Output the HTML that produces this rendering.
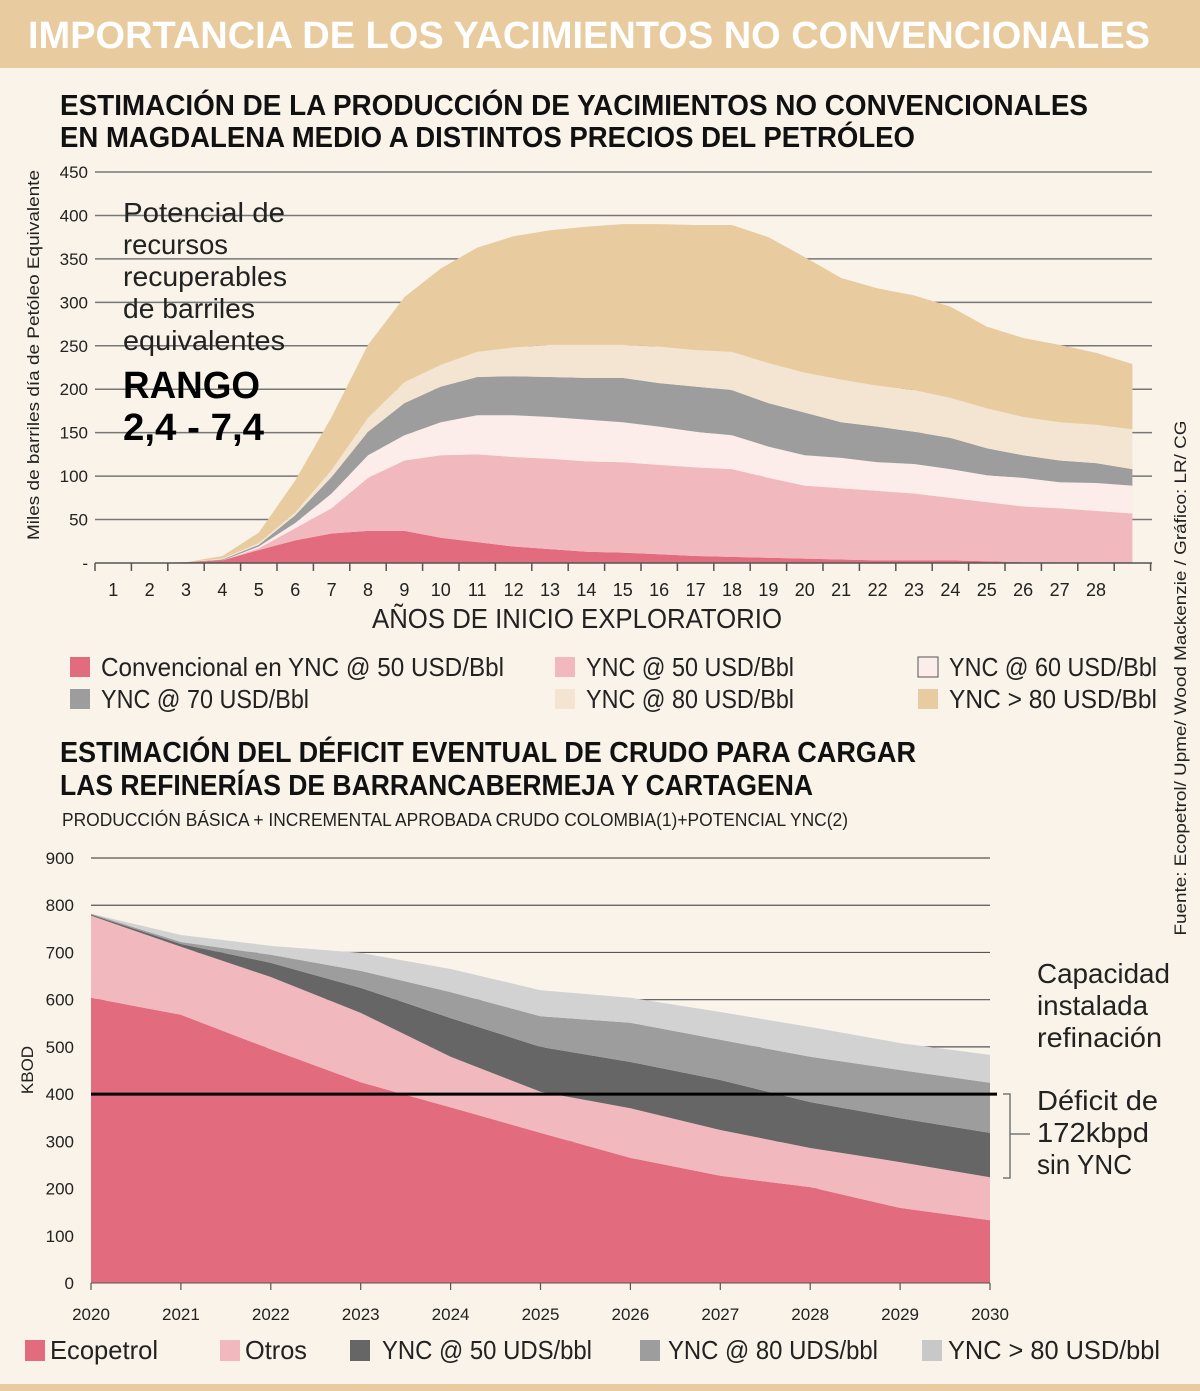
<!DOCTYPE html>
<html><head><meta charset="utf-8"><style>
html,body{margin:0;padding:0;background:#f9f3e9;}
svg{display:block;font-family:"Liberation Sans Narrow","Liberation Sans",sans-serif;}
</style></head><body>
<svg id="root" width="1200" height="1391" viewBox="0 0 1200 1391">
<rect x="0" y="0" width="1200" height="1391" fill="#f9f3e9"/>
<rect x="0" y="0" width="1200" height="68" fill="#e8cca0"/>
<rect x="0" y="1384" width="1200" height="7" fill="#e8cca0"/>
<text x="28" y="48" font-size="38" font-weight="bold" fill="#fff" textLength="1122" lengthAdjust="spacingAndGlyphs">IMPORTANCIA DE LOS YACIMIENTOS NO CONVENCIONALES</text>
<text x="60" y="115" font-size="29" font-weight="bold" fill="#111" textLength="1028" lengthAdjust="spacingAndGlyphs">ESTIMACIÓN DE LA PRODUCCIÓN  DE YACIMIENTOS NO CONVENCIONALES</text>
<text x="60" y="147" font-size="29" font-weight="bold" fill="#111" textLength="855" lengthAdjust="spacingAndGlyphs">EN MAGDALENA MEDIO A DISTINTOS PRECIOS DEL PETRÓLEO</text>
<text transform="translate(39,355) rotate(-90)" text-anchor="middle" font-size="17" fill="#222" textLength="370" lengthAdjust="spacingAndGlyphs">Miles de  barriles día de Petóleo Equivalente</text>
<g id="c1grid"></g>
<g id="c1areas"></g>
<g id="c1axis"></g>
<g fill="#222" font-size="28">
<text x="123" y="222" textLength="162" lengthAdjust="spacingAndGlyphs">Potencial de</text>
<text x="123" y="254" textLength="105" lengthAdjust="spacingAndGlyphs">recursos</text>
<text x="123" y="286" textLength="164" lengthAdjust="spacingAndGlyphs">recuperables</text>
<text x="123" y="318" textLength="132" lengthAdjust="spacingAndGlyphs">de barriles</text>
<text x="123" y="350" textLength="162" lengthAdjust="spacingAndGlyphs">equivalentes</text>
<text x="123" y="398" font-size="38" font-weight="bold" fill="#000" textLength="137" lengthAdjust="spacingAndGlyphs">RANGO</text>
<text x="123" y="440" font-size="38" font-weight="bold" fill="#000" textLength="141" lengthAdjust="spacingAndGlyphs">2,4 - 7,4</text>
</g>
<text x="577" y="628" text-anchor="middle" font-size="28" fill="#222" textLength="410" lengthAdjust="spacingAndGlyphs">AÑOS DE INICIO  EXPLORATORIO</text>
<g id="legend1" font-size="26" fill="#222"></g>
<text x="60" y="762" font-size="29" font-weight="bold" fill="#111" textLength="856" lengthAdjust="spacingAndGlyphs">ESTIMACIÓN DEL DÉFICIT EVENTUAL DE CRUDO PARA CARGAR</text>
<text x="60" y="795" font-size="29" font-weight="bold" fill="#111" textLength="753" lengthAdjust="spacingAndGlyphs">LAS REFINERÍAS DE BARRANCABERMEJA Y CARTAGENA</text>
<text x="62" y="826" font-size="18" fill="#222" textLength="786" lengthAdjust="spacingAndGlyphs">PRODUCCIÓN BÁSICA + INCREMENTAL APROBADA CRUDO COLOMBIA(1)+POTENCIAL YNC(2)</text>
<text transform="translate(33,1070) rotate(-90)" text-anchor="middle" font-size="17" fill="#222">KBOD</text>
<g id="c2grid"></g>
<g id="c2areas"></g>
<g id="c2axis"></g>
<g id="legend2" font-size="26" fill="#222"></g>
<g font-size="28" fill="#222">
<text x="1037" y="983" textLength="133" lengthAdjust="spacingAndGlyphs">Capacidad</text>
<text x="1037" y="1015" textLength="111" lengthAdjust="spacingAndGlyphs">instalada</text>
<text x="1037" y="1047" textLength="125" lengthAdjust="spacingAndGlyphs">refinación</text>
</g>
<g font-size="28" fill="#222">
<path d="M1003,1094 H1010 V1178 H1003 M1010,1134 H1030" fill="none" stroke="#777" stroke-width="1.5"/>
<text x="1037" y="1110" textLength="121" lengthAdjust="spacingAndGlyphs">Déficit de</text>
<text x="1037" y="1142" textLength="112" lengthAdjust="spacingAndGlyphs">172kbpd</text>
<text x="1037" y="1174" textLength="95" lengthAdjust="spacingAndGlyphs">sin YNC</text>
</g>
<text transform="translate(1186,678) rotate(-90)" text-anchor="middle" font-size="17" fill="#222" textLength="515" lengthAdjust="spacingAndGlyphs">Fuente: Ecopetrol/ Upme/ Wood Mackenzie / Gráfico: LR/ CG</text>
</svg>
<script>
// ---------- Chart 1 data ----------
const c1Years = [1,2,3,4,5,6,7,8,9,10,11,12,13,14,15,16,17,18,19,20,21,22,23,24,25,26,27,28,29];
const c1Conv  = [0,0,1,3,15,26,34,37,37,29,24,19,16,13,12,10,8,7,6,5,4,3,3,3,2,1,1,1,1];
const c1Ync50 = [0,0,0,0,2,14,29,61,81,95,101,103,104,104,104,103,102,101,92,84,82,80,77,72,68,64,62,59,56];
const c1Ync60 = [0,0,0,0,2,6,17,26,29,38,45,48,48,48,46,44,41,39,36,35,35,33,34,33,31,33,30,32,32];
const c1Ync70 = [0,0,0,1,2,9,19,27,37,41,44,45,46,48,51,50,52,52,50,49,41,41,37,36,31,26,25,23,19];
const c1Ync80 = [0,0,0,1,2,3,8,16,24,25,29,33,37,38,38,42,42,44,46,46,49,47,48,46,46,44,44,44,46];
const c1Ync80p= [0,0,0,3,12,37,61,84,98,111,120,128,132,136,139,141,144,146,145,133,117,112,109,105,94,91,89,83,75];
const c1Ticks = [0,50,100,150,200,250,300,350,400,450];
const c1XLabels = [1,2,3,4,5,6,7,8,9,10,11,12,13,14,15,16,17,18,19,20,21,22,23,24,25,26,27,28];
// ---------- Chart 2 data ----------
const c2Years = [2020,2021,2022,2023,2024,2025,2026,2027,2028,2029,2030];
const c2Eco   = [604,568,495,425,372,318,265,227,203,159,133];
const c2Otros = [174,144,153,147,107,87,105,97,83,97,91];
const c2Ync50 = [2,6,30,53,82,95,98,106,97,93,94];
const c2Ync80 = [2,4,17,36,55,65,83,85,96,102,106];
const c2Ync80p= [0,15,19,38,49,55,53,59,63,57,59];
const c2Ticks = [0,100,200,300,400,500,600,700,800,900];
const c2Capacity = 400;

const NS='http://www.w3.org/2000/svg';
function mk(tag,attrs,parent){const e=document.createElementNS(NS,tag);for(const k in attrs)e.setAttribute(k,attrs[k]);parent.appendChild(e);return e;}

// Chart 1 scales
const x1 = i => 95 + (i-0.5)*36.4;
const y1 = v => 563 - v*(391/450);
const g1 = document.getElementById('c1grid');
c1Ticks.forEach(t=>{
  if(t>0){const l=mk('line',{x1:95,x2:1152,y1:y1(t),y2:y1(t),stroke:'#777','stroke-width':1.5},g1);
  
  }
  const tx=mk('text',{x:88,y:y1(t)+6,'text-anchor':'end','font-size':17,fill:'#222'},g1);
  tx.textContent = t===0?'-':String(t);
  
  
});
const a1=document.getElementById('c1areas');
const s1=[[c1Conv,'#e36b7e','conv-ync-50'],[c1Ync50,'#f1b8bd','ync-50'],[c1Ync60,'#fcecea','ync-60'],[c1Ync70,'#9d9d9d','ync-70'],[c1Ync80,'#f3e5d2','ync-80'],[c1Ync80p,'#e8cca0','ync-over-80']];
let base1=c1Years.map(()=>0);
s1.forEach(([vals,col,name])=>{
  const top=base1.map((b,i)=>b+vals[i]);
  let d='M'+c1Years.map((yr,i)=>x1(yr)+','+y1(top[i])).join(' L');
  for(let i=c1Years.length-1;i>=0;i--) d+=' L'+x1(c1Years[i])+','+y1(base1[i]);
  const p=mk('path',{d:d+' Z',fill:col},a1);
  
  
  base1=top;
});
const ax1=document.getElementById('c1axis');
const l0=mk('line',{x1:95,x2:1152,y1:563,y2:563,stroke:'#555','stroke-width':1.5},ax1);


for(let k=0;k<=29;k++){mk('line',{x1:95+k*36.4,x2:95+k*36.4,y1:563,y2:571,stroke:'#555','stroke-width':1.5},ax1);}
c1XLabels.forEach(n=>{
  const t=mk('text',{x:x1(n),y:596,'text-anchor':'middle','font-size':18,fill:'#222'},ax1);
  t.textContent=n;
  
  
});

// Legend 1
const L1=document.getElementById('legend1');
[[70,657,'#e36b7e','Convencional en YNC @ 50 USD/Bbl',403],[555,657,'#f1b8bd','YNC @ 50 USD/Bbl',208],[918,657,'#fcecea','YNC @ 60 USD/Bbl',208],
 [70,689,'#9d9d9d','YNC @ 70 USD/Bbl',208],[555,689,'#f3e5d2','YNC @ 80 USD/Bbl',208],[918,689,'#e8cca0','YNC > 80 USD/Bbl',208]].forEach(([x,y,c,lab,w])=>{
  const g=mk('g',{},L1);
  
  
  mk('rect',{x:x,y:y,width:20,height:20,fill:c,stroke:c==='#fcecea'?'#555':'none','stroke-width':1},g);
  const t=mk('text',{x:x+31,y:y+19,textLength:w,lengthAdjust:'spacingAndGlyphs'},g);t.textContent=lab;
});

// Chart 2 scales
const x2 = yr => 91 + (yr-2020)*89.9;
const y2 = v => 1283 - v*(425/900);
const g2=document.getElementById('c2grid');
c2Ticks.forEach(t=>{
  if(t>0 && t!==c2Capacity){const l=mk('line',{x1:91,x2:990,y1:y2(t),y2:y2(t),stroke:'#555','stroke-width':1.2},g2);
  
  }
  const tx=mk('text',{x:74,y:y2(t)+6,'text-anchor':'end','font-size':17,fill:'#222'},g2);
  tx.textContent=String(t);
  
  
});
const a2=document.getElementById('c2areas');
const s2=[[c2Eco,'#e36b7e','ecopetrol'],[c2Otros,'#f1b8bd','otros'],[c2Ync50,'#666666','ync-50'],[c2Ync80,'#9d9d9d','ync-80'],[c2Ync80p,'#d2d2d2','ync-over-80']];
let base2=c2Years.map(()=>0);
s2.forEach(([vals,col,name])=>{
  const top=base2.map((b,i)=>b+vals[i]);
  let d='M'+c2Years.map((yr,i)=>x2(yr)+','+y2(top[i])).join(' L');
  for(let i=c2Years.length-1;i>=0;i--) d+=' L'+x2(c2Years[i])+','+y2(base2[i]);
  const p=mk('path',{d:d+' Z',fill:col},a2);
  
  
  base2=top;
});
const ax2=document.getElementById('c2axis');
const cap=mk('line',{x1:91,x2:997,y1:y2(c2Capacity),y2:y2(c2Capacity),stroke:'#000','stroke-width':3},ax2);


const b2=mk('line',{x1:91,x2:990,y1:1283,y2:1283,stroke:'#555','stroke-width':1},ax2);


c2Years.forEach(yr=>{
  mk('line',{x1:x2(yr),x2:x2(yr),y1:1283,y2:1290,stroke:'#555','stroke-width':1.2},ax2);
  const t=mk('text',{x:x2(yr),y:1320,'text-anchor':'middle','font-size':17,fill:'#222'},ax2);
  t.textContent=yr;
  
  
});

// Legend 2
const L2=document.getElementById('legend2');
[[25,'#e36b7e','Ecopetrol',108,25],[220,'#f1b8bd','Otros',62,25],[350,'#666666','YNC @ 50 UDS/bbl',210,32],[640,'#9d9d9d','YNC @ 80 UDS/bbl',210,28],[922,'#c8c8c8','YNC  > 80 USD/bbl',212,26]].forEach(([x,c,lab,w,off])=>{
  const g=mk('g',{},L2);
  
  
  mk('rect',{x:x,y:1340,width:20,height:21,fill:c},g);
  const t=mk('text',{x:x+off,y:1359,textLength:w,lengthAdjust:'spacingAndGlyphs'},g);t.textContent=lab;
});
</script>
</body></html>
